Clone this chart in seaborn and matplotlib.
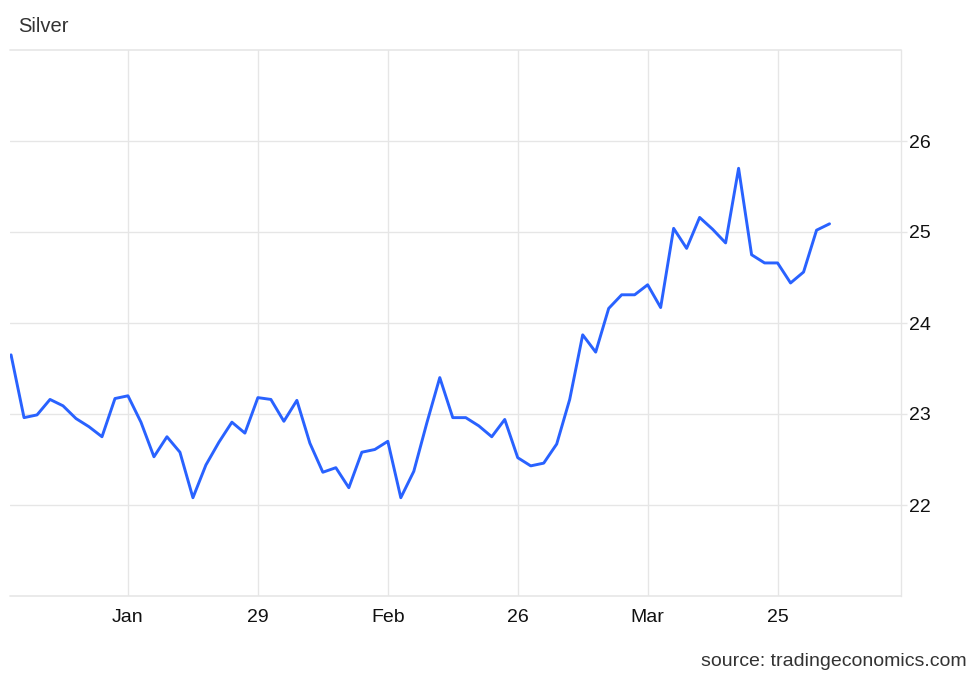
import pandas as pd
import numpy as np
import matplotlib
matplotlib.use("Agg")
import matplotlib.pyplot as plt
import seaborn as sns

# --- data (daily closes, trading-day index) ---
silver_price = [
    23.65, 22.96, 22.99, 23.16, 23.09, 22.95, 22.86, 22.75, 23.17, 23.20,
    22.91, 22.53, 22.75, 22.58, 22.08, 22.44, 22.69, 22.91, 22.79, 23.18,
    23.16, 22.92, 23.15, 22.68, 22.36, 22.41, 22.19, 22.58, 22.61, 22.70,
    22.08, 22.37, 22.90, 23.40, 22.96, 22.96, 22.87, 22.75, 22.94, 22.52,
    22.43, 22.46, 22.67, 23.16, 23.87, 23.68, 24.16, 24.31, 24.31, 24.42,
    24.17, 25.04, 24.82, 25.16, 25.03, 24.88, 25.70, 24.75, 24.66, 24.66,
    24.44, 24.56, 25.02, 25.09,
]
tick_labels = ["Jan", "29", "Feb", "26", "Mar", "25"]
tick_index = [9, 19, 29, 39, 49, 59]
y_ticks = [22, 23, 24, 25, 26]
y_range = (21, 27)

df = pd.DataFrame({"day": np.arange(len(silver_price)), "price": silver_price})

# --- style ---
sns.set_theme(style="white")
plt.rcParams["font.family"] = ["Liberation Sans", "DejaVu Sans"]
GRID = "#e6e6e6"
TEXT = "#333333"

fig = plt.figure(figsize=(9.8, 6.79), dpi=100)
ax = fig.add_axes([10 / 980, 83 / 679, 891 / 980, 546 / 679])

sns.lineplot(data=df, x="day", y="price", ax=ax, color="#2962ff", linewidth=2.1)

ax.set_xlim(-0.08, 68.5)
ax.set_ylim(*y_range)

ax.set_xticks(tick_index)
ax.set_xticklabels(tick_labels)
ax.set_yticks(y_ticks)
ax.set_yticklabels([str(v) for v in y_ticks])

ax.yaxis.tick_right()
ax.grid(True, color=GRID, linewidth=1.0)
for v in y_range:
    ax.axhline(v, color=GRID, linewidth=1.2, zorder=0, clip_on=False)
ax.set_axisbelow(True)

for side in ["top", "left", "bottom"]:
    ax.spines[side].set_visible(False)
ax.spines["right"].set_color(GRID)
ax.spines["right"].set_linewidth(1.0)

ax.tick_params(axis="y", length=4, width=1.0, color=GRID, pad=1.5,
               labelsize=14, labelcolor="#111111")
ax.tick_params(axis="x", length=0, pad=9, labelsize=14, labelcolor="#111111")
ax.set_xlabel("")
ax.set_ylabel("")

fig.text(18 / 980, 1 - 26 / 679, "Silver", fontsize=14.5, color=TEXT,
         ha="left", va="center")
fig.text(967 / 980, 1 - 662 / 679, "source: tradingeconomics.com",
         fontsize=14, color=TEXT, ha="right", va="center")

fig.savefig("out.png", dpi=100, facecolor="white")
